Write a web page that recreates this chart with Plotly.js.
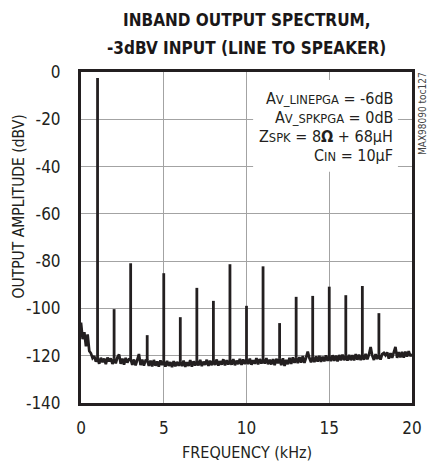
<!DOCTYPE html>
<html>
<head>
<meta charset="utf-8">
<script src="https://cdn.plot.ly/plotly-3.0.1.min.js"></script>
<style>html,body{margin:0;padding:0;background:#fff;}#chart{width:432px;height:462px;}</style>
</head>
<body>
<div id="chart"></div>
<script>
// ---- data ----
const noiseStartKHz = 0;
const noiseStepKHz = 0.1;
const noiseLevel = [
  -106, -113, -110, -116, -111, -118, -119, -121, -120.2, -122.5,
  -121, -123.4, -120.9, -122.8, -121.2, -123.6, -120.8, -122.4, -121.1, -123.5,
  -121.3, -123.2, -120.7, -119.5, -123.4, -121.2, -123.8, -120.9, -122.9, -121.5,
  -121.4, -123.9, -121.6, -124.1, -121.8, -119.3, -124, -121.7, -124.2, -122,
  -121.9, -124.3, -122.1, -124.5, -121.8, -124.2, -122.4, -124.6, -122, -123.9,
  -122.4, -124.6, -122.2, -124.3, -122.7, -124.8, -122.3, -124.5, -122.6, -124.2,
  -122.5, -124.4, -122.1, -124.7, -122.8, -124.3, -121.9, -124.6, -122.4, -124.1,
  -122.2, -124.1, -121.8, -124.4, -122.5, -123.9, -121.7, -124.3, -122.1, -124,
  -122, -123.9, -121.6, -124.2, -122.3, -123.8, -121.5, -124.1, -121.9, -123.7,
  -121.8, -123.8, -121.4, -124, -122.1, -123.6, -121.3, -123.9, -121.6, -123.5,
  -121.6, -123.5, -121.2, -123.8, -121.9, -123.4, -121, -123.7, -121.4, -123.3,
  -121.5, -123.3, -121, -123.6, -121.7, -123.7, -121.4, -124, -121.3, -123.2,
  -121.3, -124, -121.1, -124.3, -121.8, -123.6, -120.9, -123.5, -120.7, -123,
  -120.9, -123.1, -120.6, -122.9, -120.2, -123, -120.8, -118.3, -121, -122.8,
  -120.5, -122.7, -120.3, -122.5, -120.1, -122.6, -120.4, -122.4, -119.9, -122.2,
  -120.2, -122.3, -119.8, -122.2, -120, -122.4, -119.7, -122, -119.5, -121.9,
  -120, -122.1, -119.6, -121.9, -119.8, -122, -119.3, -121.7, -119.6, -121.8,
  -119.8, -121.7, -119.2, -121.5, -119.5, -116.3, -120, -121.8, -119.3, -121.4,
  -119.6, -121.6, -119.3, -118.8, -119.8, -118.6, -121.2, -118.9, -120.9, -118.7,
  -116.3, -120.9, -118.5, -120.7, -118.4, -120.8, -118.3, -120.4, -118.1, -120.2,
  -119.3
];
const harmonicFreq = [1, 2, 3, 4, 5, 6, 7, 8, 9, 10, 11, 12, 13, 14, 15, 16, 17, 18];
const harmonicLevel = [-2.5, -100.3, -80.9, -111.3, -85.1, -103.7, -91.3, -96.8, -81.3, -98.9,
                       -82.2, -106.2, -95.1, -94.7, -90.8, -94.4, -90.5, -102];
const xTickVals = [0, 5, 10, 15, 20];
const xTickText = ['0', '5', '10', '15', '20'];
const yTickVals = [0, -20, -40, -60, -80, -100, -120, -140];
const yTickText = ['0', '-20', '-40', '-60', '-80', '-100', '-120', '-140'];
const titleLines = ['INBAND OUTPUT SPECTRUM,', '-3dBV INPUT (LINE TO SPEAKER)'];
const xTitle = 'FREQUENCY (kHz)';
const yTitle = 'OUTPUT AMPLITUDE (dBV)';
const conditionLines = [
  'A<span style="font-size:80%">V_LINEPGA</span> = -6dB',
  'A<span style="font-size:80%">V_SPKPGA</span> = 0dB',
  'Z<span style="font-size:80%">SPK</span> = 8<b>Ω</b> + 68μH',
  'C<span style="font-size:80%">IN</span> = 10μF'
];
const conditionY = [-11, -19.3, -27.3, -35.3];
const figureId = 'MAX98090 toc127';

// ---- build traces ----
const ink = '#231f20';
const FN = '"Liberation Sans Narrow", "Arial Narrow", "DejaVu Sans Condensed", sans-serif';

const spikeX = [], spikeY = [];
harmonicFreq.forEach((f, i) => {
  const base = noiseLevel[Math.round((f - noiseStartKHz) / noiseStepKHz)];
  spikeX.push(f, f, null);
  spikeY.push(base, harmonicLevel[i], null);
});

const traces = [
  {type: 'scatter', mode: 'lines', x0: noiseStartKHz, dx: noiseStepKHz, y: noiseLevel,
   line: {color: ink, width: 2.7}, hoverinfo: 'skip'},
  {type: 'scatter', mode: 'lines', x: spikeX, y: spikeY, connectgaps: false,
   line: {color: ink, width: 2.8}, hoverinfo: 'skip'}
];

const annotations = conditionLines.map((t, i) => ({
  text: t, xref: 'x', yref: 'y', x: 19.0, y: conditionY[i],
  xanchor: 'right', yanchor: 'middle', showarrow: false,
  font: {family: FN, size: 16, color: ink}
}));
const titleY = [1.158, 1.073];
titleLines.forEach((t, i) => annotations.push({
  text: t, xref: 'paper', yref: 'paper', x: 0.5, y: titleY[i],
  xanchor: 'center', yanchor: 'middle', showarrow: false,
  font: {family: FN, size: 17, weight: 'bold', color: '#1a1718'}
}));
annotations.push({
  text: yTitle, xref: 'paper', yref: 'paper', x: -0.186, y: 0.595,
  xanchor: 'center', yanchor: 'middle', textangle: -90, showarrow: false,
  font: {family: FN, size: 15.5, color: ink}
});
annotations.push({
  text: xTitle, xref: 'paper', yref: 'paper', x: 0.5, y: -0.1495,
  xanchor: 'center', yanchor: 'middle', showarrow: false,
  font: {family: FN, size: 16, color: ink}
});
annotations.push({
  text: figureId, xref: 'paper', yref: 'paper', x: 1.03, y: 0.876,
  xanchor: 'center', yanchor: 'middle', textangle: -90, showarrow: false,
  font: {family: FN, size: 10, color: '#444'}
});

const layout = {
  width: 432, height: 462,
  margin: {l: 81, r: 20, t: 72, b: 59, pad: 0},
  paper_bgcolor: '#fff', plot_bgcolor: '#fff',
  showlegend: false,
  xaxis: {range: [0, 20], tickvals: xTickVals, ticktext: xTickText,
          showgrid: true, gridcolor: '#a3a3a3', gridwidth: 1, zeroline: false,
          showline: true, mirror: true, linecolor: ink, linewidth: 3,
          ticks: '', ticklabelstandoff: 8,
          tickfont: {family: FN, size: 17, color: ink}},
  yaxis: {range: [-140, 0], tickvals: yTickVals, ticktext: yTickText,
          showgrid: true, gridcolor: '#a3a3a3', gridwidth: 1, zeroline: false,
          showline: true, mirror: true, linecolor: ink, linewidth: 3,
          ticks: '', ticklabelstandoff: 14,
          tickfont: {family: FN, size: 17, color: ink}},
  shapes: [{type: 'rect', xref: 'x', yref: 'y', x0: 10.4, x1: 19.15, y0: -42.2, y1: -3.4,
            fillcolor: '#fff', line: {width: 0}, layer: 'above'}],
  annotations: annotations
};

Plotly.newPlot('chart', traces, layout, {staticPlot: true, displayModeBar: false});
</script>
</body>
</html>
